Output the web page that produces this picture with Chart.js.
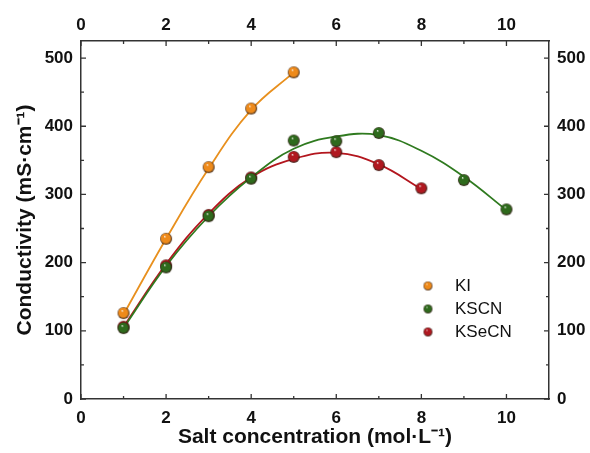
<!DOCTYPE html>
<html>
<head>
<meta charset="utf-8">
<script src="https://cdn.jsdelivr.net/npm/chart.js@4"></script>
<style>
  html, body { margin: 0; padding: 0; background: #fff; }
  #wrap { width: 590px; height: 453px; }
</style>
</head>
<body>
<div id="wrap"><canvas id="chart" width="590" height="453"></canvas></div>
<script>
// measured points (mol/L vs mS/cm)
const kiConc = [1, 2, 3, 4, 5];
const kiCond = [126, 235, 340, 426, 479];
const kscnConc = [1, 2, 3, 4, 5, 6, 7, 9, 10];
const kscnCond = [104, 193, 268, 323, 379, 378, 390, 321, 278];
const ksecnConc = [1, 2, 3, 4, 5, 6, 7, 8];
const ksecnCond = [106, 196, 270, 325, 355, 362, 343, 309];

// fitted curves
const kiFitConc = [1, 2, 3, 4, 5];
const kiFit = [124, 235, 338, 424, 479];
const kscnFitConc = [1, 2, 3, 4, 5, 6, 7, 8, 9, 10];
const kscnFit = [104, 195, 268, 325, 367, 385, 387, 364, 326, 277];
const ksecnFitConc = [1, 2, 3, 4, 5, 6, 7, 8];
const ksecnFit = [106, 198, 272, 325, 352, 361, 344, 308];

const seriesNames = ["KI", "KSCN", "KSeCN"];
const xTicks = [0, 2, 4, 6, 8, 10];
const yTicks = [0, 100, 200, 300, 400, 500];

const colors = {
  KI: { line: "#E8901E", ball: "#EE8A1A" },
  KSCN: { line: "#2F7A1F", ball: "#2E6A1C" },
  KSeCN: { line: "#B3161E", ball: "#B01820" },
};

// little shaded ball used as the marker
const sphere = (color, r) => {
  const c = document.createElement("canvas");
  c.width = c.height = r * 2 + 2;
  const g = c.getContext("2d");
  const cx = r + 1;
  const grad = g.createRadialGradient(cx - r * 0.25, cx - r * 0.4, 0, cx, cx, r);
  grad.addColorStop(0, "#ffffff");
  grad.addColorStop(0.22, color);
  grad.addColorStop(0.75, color);
  grad.addColorStop(1, "rgba(40,20,10,0.9)");
  g.fillStyle = grad;
  g.beginPath();
  g.arc(cx, cx, r, 0, Math.PI * 2);
  g.fill();
  return c;
};

const toPoints = (xs, ys) => xs.map((x, i) => ({ x: x, y: ys[i] }));

const fitLine = (name, xs, ys) => ({
  label: name + " fit",
  data: toPoints(xs, ys),
  borderColor: colors[name].line,
  borderWidth: 1.8,
  pointRadius: 0,
  tension: 0.4,
  fill: false,
  order: 10,
});

const markers = (name, xs, ys, order) => ({
  label: name,
  data: toPoints(xs, ys),
  showLine: false,
  pointStyle: sphere(colors[name].ball, 6),
  pointRadius: 6,
  order: order,
});

// inward tick marks with minor ticks, on all four sides
const tickMarks = {
  id: "tickMarks",
  afterDraw(chart) {
    const { ctx, chartArea: a, scales } = chart;
    ctx.save();
    ctx.strokeStyle = "#333";
    ctx.lineWidth = 1.3;
    ctx.beginPath();
    for (let v = 0; v <= 10; v++) {
      const px = scales.x.getPixelForValue(v);
      const len = v % 2 === 0 ? 5 : 3;
      ctx.moveTo(px, a.bottom);
      ctx.lineTo(px, a.bottom - len);
      ctx.moveTo(px, a.top);
      ctx.lineTo(px, a.top + len);
    }
    for (let v = 0; v <= 500; v += 50) {
      const py = scales.y.getPixelForValue(v);
      const len = v % 100 === 0 ? 5 : 3;
      ctx.moveTo(a.left, py);
      ctx.lineTo(a.left + len, py);
      ctx.moveTo(a.right, py);
      ctx.lineTo(a.right - len, py);
    }
    ctx.stroke();
    ctx.restore();
  },
};

// legend drawn inside the plot, lower right
const insideLegend = {
  id: "insideLegend",
  afterDraw(chart) {
    const ctx = chart.ctx;
    ctx.save();
    ctx.font = "17px 'Liberation Sans', Arial, sans-serif";
    ctx.fillStyle = "#111";
    ctx.textBaseline = "middle";
    seriesNames.forEach((name, i) => {
      const y = 286 + i * 23;
      const img = sphere(colors[name].ball, 4.5);
      ctx.drawImage(img, 428 - img.width / 2, y - img.height / 2);
      ctx.fillText(name, 455, y);
    });
    ctx.restore();
  },
};

const tickFont = { family: "'Liberation Sans', Arial, sans-serif", size: 17, weight: "bold" };
const titleFont = { family: "'Liberation Sans', Arial, sans-serif", size: 21, weight: "bold" };
const frame = { display: true, color: "#333", width: 1.5 };

const ctx = document.getElementById("chart").getContext("2d");
new Chart(ctx, {
  type: "line",
  data: {
    datasets: [
      fitLine("KI", kiFitConc, kiFit),
      fitLine("KSCN", kscnFitConc, kscnFit),
      fitLine("KSeCN", ksecnFitConc, ksecnFit),
      markers("KI", kiConc, kiCond, 1),
      markers("KSCN", kscnConc, kscnCond, 2),
      markers("KSeCN", ksecnConc, ksecnCond, 3),
    ],
  },
  options: {
    responsive: false,
    animation: false,
    layout: { padding: 0 },
    plugins: { legend: { display: false }, tooltip: { enabled: false } },
    scales: {
      x: {
        type: "linear",
        position: "bottom",
        min: 0,
        max: 11,
        grid: { display: false },
        border: frame,
        afterBuildTicks: (s) => { s.ticks = xTicks.map((v) => ({ value: v })); },
        afterFit: (s) => { s.height = 54; },
        ticks: { font: tickFont, color: "#111", padding: 1, maxRotation: 0 },
        title: {
          display: true,
          text: "Salt concentration (mol·L⁻¹)",
          font: titleFont,
          color: "#111",
          padding: { top: 0, bottom: 3 },
        },
      },
      x2: {
        type: "linear",
        position: "top",
        min: 0,
        max: 11,
        grid: { display: false },
        border: frame,
        afterBuildTicks: (s) => { s.ticks = xTicks.map((v) => ({ value: v })); },
        afterFit: (s) => { s.height = 41; },
        ticks: { font: tickFont, color: "#111", padding: -3, maxRotation: 0 },
      },
      y: {
        type: "linear",
        position: "left",
        min: 0,
        max: 525,
        grid: { display: false },
        border: frame,
        afterBuildTicks: (s) => { s.ticks = yTicks.map((v) => ({ value: v })); },
        afterFit: (s) => { s.width = 81; },
        ticks: { font: tickFont, color: "#111", padding: 0 },
        title: {
          display: true,
          text: "Conductivity (mS·cm⁻¹)",
          font: titleFont,
          color: "#111",
          padding: { top: 13, bottom: 0 },
        },
      },
      y2: {
        type: "linear",
        position: "right",
        min: 0,
        max: 525,
        grid: { display: false },
        border: frame,
        afterBuildTicks: (s) => { s.ticks = yTicks.map((v) => ({ value: v })); },
        afterFit: (s) => { s.width = 41; },
        ticks: { font: tickFont, color: "#111", padding: 0 },
      },
    },
  },
  plugins: [tickMarks, insideLegend],
});
</script>
</body>
</html>
